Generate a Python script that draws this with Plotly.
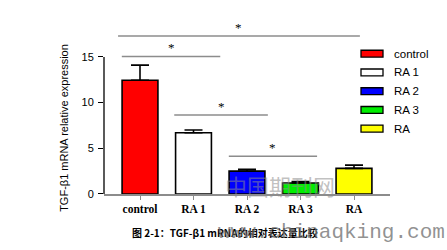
import plotly.graph_objects as go

categories = ["control", "RA 1", "RA 2", "RA 3", "RA"]
values = [12.45, 6.7, 2.5, 1.2, 2.8]
errors = [1.65, 0.3, 0.2, 0.15, 0.35]
colors = ["#FF0000", "#FFFFFF", "#0000FF", "#00EE00", "#FFFF00"]
y_ticks = [0, 5, 10, 15]
# significance brackets: (start index, end index, height)
brackets = [(-0.41, 4.11, 17.3), (-0.34, 1.5, 15.05), (0.64, 2.39, 8.65), (1.66, 3.31, 4.13)]

W, H = 447, 250
def px(x): return x / W
def py(y): return 1 - y / H

x_idx = list(range(len(categories)))
fig = go.Figure()
fig.add_trace(go.Bar(
    x=x_idx, y=values, width=0.67,
    marker=dict(color=colors, line=dict(color="black", width=1.6)),
    error_y=dict(type="data", symmetric=False, array=errors, arrayminus=[0]*len(errors),
                 color="black", thickness=1.6, width=9),
    showlegend=False,
))

shapes = []
annotations = []
# y axis line (0..15)
shapes.append(dict(type="line", xref="x domain", yref="y", x0=0, x1=0, y0=0, y1=15,
                   line=dict(color="black", width=1.3)))
for (a, b, h) in brackets:
    shapes.append(dict(type="line", xref="x", yref="y", x0=a, x1=b, y0=h, y1=h,
                       line=dict(color="#8c8c8c", width=1.5)))
    annotations.append(dict(xref="x", yref="y", x=(a + b) / 2, y=h, text="*", showarrow=False,
                            yanchor="bottom", yshift=-1,
                            font=dict(family="Liberation Serif", size=13, color="black")))

# legend drawn manually
for i, (name, c) in enumerate(zip(categories, colors)):
    yc = 55 + 19.2 * i
    shapes.append(dict(type="rect", xref="paper", yref="paper",
                       x0=px(361), x1=px(383), y0=py(yc + 3.5), y1=py(yc - 3.5),
                       fillcolor=c, line=dict(color="black", width=1.3)))
    annotations.append(dict(xref="paper", yref="paper", x=px(392), y=py(yc), text=name,
                            showarrow=False, xanchor="left", yanchor="middle",
                            font=dict(family="Liberation Sans", size=11.5, color="black")))

annotations.append(dict(xref="paper", yref="paper", x=px(64), y=py(131),
                        text="TGF-β1 mRNA relative expression", textangle=-90, showarrow=False,
                        xanchor="center", yanchor="middle",
                        font=dict(family="Liberation Sans", size=11, color="black")))
annotations.append(dict(xref="paper", yref="paper", x=px(130), y=py(238),
                        text="<b>图 2-1：TGF-β1 mRNA的相对表达量比较</b>", showarrow=False,
                        xanchor="left", yanchor="middle",
                        font=dict(family="Noto Sans CJK SC", size=10, color="black")))
annotations.append(dict(xref="paper", yref="paper", x=px(280), y=py(190),
                        text="中国期刊网", showarrow=False, xanchor="center", yanchor="middle",
                        font=dict(family="Noto Sans CJK SC", size=22, color="rgba(140,140,140,0.55)")))
annotations.append(dict(xref="paper", yref="paper", x=px(447), y=py(238),
                        text="www.chinaqking.com", showarrow=False, xanchor="right", yanchor="middle",
                        font=dict(family="Liberation Mono", size=21, color="rgba(110,110,110,0.75)")))

fig.update_layout(
    width=W, height=H, margin=dict(l=0, r=0, t=0, b=0),
    plot_bgcolor="white", paper_bgcolor="white",
    shapes=shapes, annotations=annotations, bargap=0.33,
    xaxis=dict(domain=[px(104), px(390)], range=[-0.673, 4.673],
               tickmode="array", tickvals=x_idx, ticktext=["<b>%s</b>" % c for c in categories],
               showline=True, linecolor="#8c8c8c", linewidth=1.5,
               ticks="outside", ticklen=4, tickcolor="#8c8c8c", tickwidth=1.3,
               showgrid=False, zeroline=False,
               tickfont=dict(family="Liberation Serif", size=11.5, color="black")),
    yaxis=dict(domain=[1 - 198.7 / H, 1 - 20 / H], range=[0, (198.7 - 20) / 9.36],
               tickmode="array", tickvals=y_ticks, ticks="outside", ticklen=5,
               tickcolor="black", tickwidth=1.3, showline=False, showgrid=False, zeroline=False,
               ticklabelstandoff=2,
               tickfont=dict(family="Liberation Sans", size=11, color="black"),
               tickprefix="<b>", ticksuffix="</b>"),
)
fig.write_html("out.html")
